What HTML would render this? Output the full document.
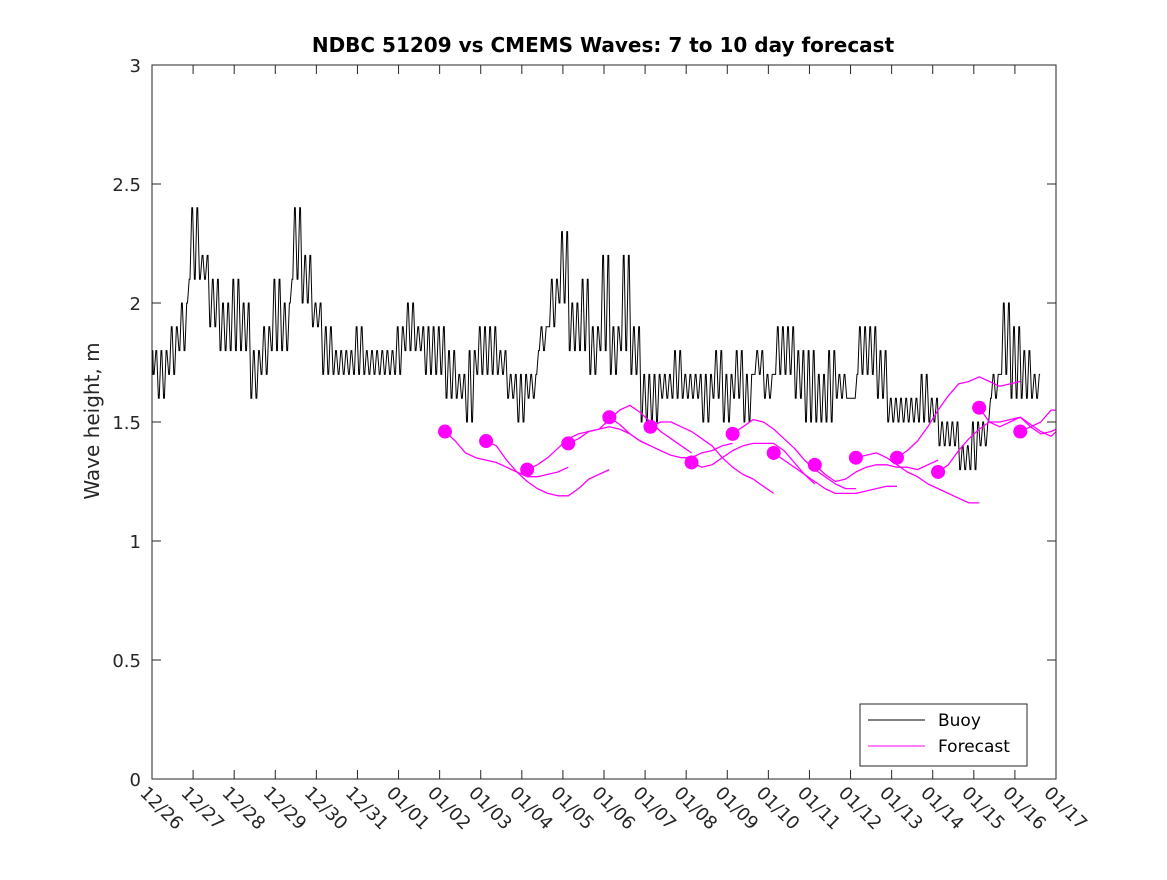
<!DOCTYPE html>
<html><head><meta charset="utf-8"><style>
body{margin:0;background:#fff}
svg text{font-family:"DejaVu Sans","Liberation Sans",sans-serif;fill:#262626}
</style></head><body>
<svg id="chart" width="1167" height="875" xmlns="http://www.w3.org/2000/svg">
<rect width="1167" height="875" fill="#fff"/>
<text x="603" y="52" text-anchor="middle" font-size="20" font-weight="bold" style="fill:#000">NDBC 51209 vs CMEMS Waves: 7 to 10 day forecast</text>
<text transform="translate(99,421) rotate(-90)" text-anchor="middle" font-size="20">Wave height, m</text>
<defs><clipPath id="clip"><rect x="152" y="65" width="904" height="714"/></clipPath></defs>
<g id="grid"></g>
<g id="series" clip-path="url(#clip)"></g>
<rect x="152" y="65" width="904" height="714" fill="none" stroke="#262626" stroke-width="1"/>
<g>
<rect x="860" y="704" width="167" height="62" fill="#fff" stroke="#262626"/>
<line x1="868" y1="720" x2="925" y2="720" stroke="#000"/>
<text x="938" y="726" font-size="17" style="fill:#000">Buoy</text>
<line x1="868" y1="746" x2="925" y2="746" stroke="#f0f" stroke-width="1"/>
<text x="938" y="752" font-size="17" style="fill:#000">Forecast</text>
</g>
</svg>
<script>
const xTickLabels=["12/26","12/27","12/28","12/29","12/30","12/31","01/01","01/02","01/03","01/04","01/05","01/06","01/07","01/08","01/09","01/10","01/11","01/12","01/13","01/14","01/15","01/16","01/17"];
const yTicks=[0,0.5,1,1.5,2,2.5,3];
const yTickLabels=["0","0.5","1","1.5","2","2.5","3"];
const buoyStepDays=0.25;
// buoy low/high envelope every 6 hours from 12/26
const buoyLo=[1.7,1.6,1.7,1.8,2.1,2.1,1.9,1.8,1.8,1.8,1.6,1.7,1.8,1.8,2.1,2.0,1.9,1.7,1.7,1.7,1.7,1.7,1.7,1.7,1.7,1.8,1.8,1.7,1.7,
1.6,1.6,1.5,1.7,1.7,1.7,1.6,1.5,1.6,1.8,1.9,2.0,1.8,1.8,1.7,1.8,1.7,1.8,1.7,1.5,1.5,1.6,1.6,1.6,1.6,1.5,1.6,1.5,1.6,1.5,
1.7,1.6,1.7,1.7,1.6,1.5,1.5,1.5,1.6,1.6,1.7,1.7,1.6,1.5,1.5,1.5,1.5,1.5,1.4,1.4,1.3,1.3,1.4,1.6,1.7,1.6,1.6,1.6];
const buoyHi=[1.8,1.8,1.9,2.0,2.4,2.2,2.1,2.0,2.1,2.0,1.8,1.9,2.1,2.0,2.4,2.2,2.0,1.9,1.8,1.8,1.9,1.8,1.8,1.8,1.9,2.0,1.9,1.9,1.9,
1.8,1.7,1.8,1.9,1.9,1.8,1.7,1.7,1.7,1.9,2.1,2.3,2.0,2.1,1.9,2.2,1.9,2.2,1.9,1.7,1.7,1.7,1.8,1.7,1.7,1.7,1.8,1.7,1.8,1.7,
1.8,1.7,1.9,1.9,1.8,1.8,1.7,1.8,1.7,1.6,1.9,1.9,1.8,1.6,1.6,1.6,1.7,1.6,1.5,1.5,1.4,1.5,1.5,1.7,2.0,1.9,1.8,1.7];
const fcStart=[7.13,8.13,9.13,10.13,11.13,12.13,13.13,14.13,15.13,16.13,17.13,18.13,19.13,20.13,21.13];
const fcDot=[1.46,1.42,1.30,1.41,1.52,1.48,1.33,1.45,1.37,1.32,1.35,1.35,1.29,1.56,1.46];
// forecast values every 0.25 day from start (3 days)
const fc=[
[1.46,1.42,1.37,1.35,1.34,1.33,1.31,1.29,1.27,1.27,1.28,1.29,1.31],
[1.42,1.40,1.34,1.29,1.25,1.22,1.20,1.19,1.19,1.22,1.26,1.28,1.30],
[1.30,1.32,1.35,1.39,1.43,1.45,1.46,1.47,1.48,1.47,1.45,1.42,1.40],
[1.41,1.43,1.46,1.47,1.51,1.55,1.57,1.54,1.50,1.46,1.43,1.40,1.37],
[1.52,1.49,1.45,1.42,1.40,1.38,1.36,1.35,1.35,1.37,1.38,1.40,1.41],
[1.48,1.50,1.50,1.48,1.46,1.43,1.40,1.35,1.31,1.28,1.26,1.23,1.20],
[1.33,1.31,1.32,1.35,1.38,1.40,1.41,1.41,1.41,1.38,1.33,1.28,1.24],
[1.45,1.48,1.51,1.50,1.47,1.43,1.39,1.34,1.30,1.27,1.24,1.22,1.22],
[1.37,1.34,1.31,1.28,1.25,1.22,1.20,1.20,1.20,1.21,1.22,1.23,1.23],
[1.32,1.28,1.25,1.26,1.29,1.31,1.32,1.32,1.31,1.31,1.30,1.32,1.34],
[1.35,1.36,1.37,1.35,1.32,1.29,1.27,1.24,1.22,1.20,1.18,1.16,1.16],
[1.35,1.38,1.42,1.48,1.55,1.61,1.66,1.67,1.69,1.67,1.65,1.66,1.67],
[1.29,1.32,1.38,1.43,1.47,1.50,1.50,1.51,1.52,1.49,1.46,1.44,1.48],
[1.56,1.50,1.48,1.50,1.52,1.48,1.45,1.46,1.48,1.52,1.55,1.56,1.56],
[1.46,1.48,1.50,1.55,1.55,1.55,1.55,1.55,1.55,1.55,1.55,1.55,1.55]];
const NS="http://www.w3.org/2000/svg";
const X=d=>152+d*904/22, Y=v=>779-v*714/3;
const svg=document.getElementById('chart'),grid=document.getElementById('grid'),ser=document.getElementById('series');
function mk(t,a,p){const e=document.createElementNS(NS,t);for(const k in a)e.setAttribute(k,a[k]);p.appendChild(e);return e;}
xTickLabels.forEach((l,i)=>{const x=X(i);
 const t=mk('line',{x1:x,y1:779,x2:x,y2:770,stroke:'#262626'},grid);
 
 
 const t2=mk('line',{x1:x,y1:65,x2:x,y2:74,stroke:'#262626'},grid);
 
 
 const tx=mk('text',{transform:`translate(${x-13},${794}) rotate(45)`,'font-size':18},svg);
 tx.textContent=l;
 
 
});
yTicks.forEach((v,i)=>{const y=Y(v);
 const t=mk('line',{x1:152,y1:y,x2:161,y2:y,stroke:'#262626'},grid);
 
 
 const t2=mk('line',{x1:1056,y1:y,x2:1047,y2:y,stroke:'#262626'},grid);
 
 
 const tx=mk('text',{x:141,y:y+7,'text-anchor':'end','font-size':18},svg);
 tx.textContent=yTickLabels[i];
 
 
});
let d='';
buoyHi.forEach((hi,i)=>{const lo=buoyLo[i];
 for(let k=0;k<4;k++){const t=(i+k/4-0.375)*buoyStepDays;const v=(k%2===0)?lo:hi;
  d+=(d?'L':'M')+X(Math.max(0,t)).toFixed(1)+','+Y(v).toFixed(1)+'h0.8';}
});
const bl=mk('path',{d:d,fill:'none',stroke:'#000','stroke-width':1},ser);


fc.forEach((arr,j)=>{let p='';
 arr.forEach((v,i)=>{p+=(i?'L':'M')+X(fcStart[j]+i*0.25).toFixed(1)+','+Y(i?v:fcDot[j]).toFixed(1);});
 const l=mk('path',{d:p,fill:'none',stroke:'#f0f','stroke-width':1.3,'stroke-linejoin':'round'},ser);
 
 
});
fcDot.forEach((v,j)=>{
 const c=mk('circle',{cx:X(fcStart[j]),cy:Y(v),r:7,fill:'#f0f'},ser);
 
 
});
</script>
</body></html>
